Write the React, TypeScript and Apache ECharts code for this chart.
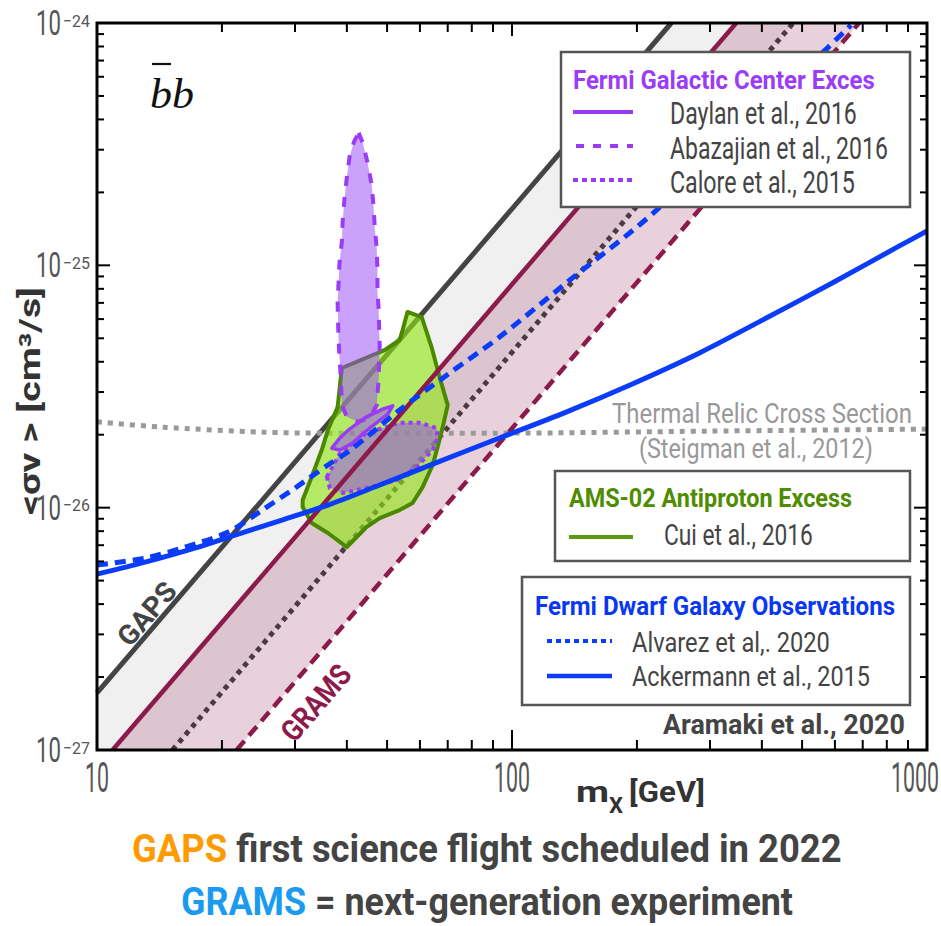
import React, { useEffect, useRef } from 'react';
import * as echarts from 'echarts';

// ---------------- axes ----------------
const X_RANGE = [10, 1000];
const Y_RANGE = [1e-27, 1e-24];
const X_MAJOR_TICKS = [10, 100, 1000];
const X_TICK_LABELS = ['10', '100', '1000'];
const X_MINOR_TICKS = [20, 30, 40, 50, 60, 70, 80, 90, 200, 300, 400, 500, 600, 700, 800, 900];
const Y_MAJOR_TICKS = [1e-27, 1e-26, 1e-25, 1e-24];
const Y_TICK_EXPONENTS = ['−27', '−26', '−25', '−24'];
const Y_MINOR_TICKS = [
  2e-27, 3e-27, 4e-27, 5e-27, 6e-27, 7e-27, 8e-27, 9e-27,
  2e-26, 3e-26, 4e-26, 5e-26, 6e-26, 7e-26, 8e-26, 9e-26,
  2e-25, 3e-25, 4e-25, 5e-25, 6e-25, 7e-25, 8e-25, 9e-25,
];

// ---------------- GAPS / GRAMS sensitivity (edges of bands) ----------------
const GAPS_UPPER = [[10, 1.72e-27], [242, 1e-24]];
const GAPS_LOWER = [[15.2, 1e-27], [476, 1e-24]];
const GRAMS_UPPER = [[10.9, 1e-27], [347, 1e-24]];
const GRAMS_LOWER = [[21.7, 1e-27], [686, 1e-24]];
const PLOT_CORNER = [10, 1e-27];

// ---------------- Fermi dwarf limits ----------------
const ALVAREZ_2020 = [
  [10, 5.8e-27], [13.05, 6.19e-27], [16.3, 6.88e-27], [20.7, 7.93e-27], [25.0, 9.77e-27],
  [30.0, 1.205e-26], [36.0, 1.5e-26], [41.1, 1.745e-26], [53.6, 2.53e-26], [70.7, 3.59e-26],
  [93.3, 5.06e-26], [135, 8.45e-26], [223, 1.69e-25], [656, 9.8e-25],
];
const ACKERMANN_2015 = [
  [10, 5.32e-27], [13.05, 5.96e-27], [17.2, 6.81e-27], [21.5, 7.71e-27], [27.9, 8.89e-27],
  [36.0, 1.025e-26], [48.0, 1.24e-26], [64.4, 1.513e-26], [93.3, 1.938e-26], [135, 2.48e-26],
  [195, 3.24e-26], [283, 4.35e-26], [410, 6.06e-26], [591, 8.45e-26], [856, 1.2e-25],
  [1000, 1.385e-25],
];

// ---------------- thermal relic ----------------
const THERMAL_RELIC = [
  [10, 2.26e-26], [14.3, 2.15e-26], [25, 2.05e-26], [36, 2.03e-26], [93, 2.03e-26],
  [300, 2.07e-26], [1000, 2.11e-26],
];

// ---------------- AMS-02 antiproton excess (Cui et al. 2016) ----------------
const CUI_2016 = [
  [56.0, 6.42e-26], [60.6, 6.12e-26], [64.0, 4.6e-26], [66.9, 3.46e-26], [70.0, 2.65e-26],
  [68.0, 2.13e-26], [66.2, 1.78e-26], [64.4, 1.5e-26], [60.9, 1.216e-26], [57.6, 1.045e-26],
  [53.6, 9.77e-27], [48.0, 9.06e-27], [44.6, 8.32e-27], [40.0, 6.88e-27], [36.0, 7.86e-27],
  [32.9, 8.64e-27], [31.3, 1.006e-26], [31.3, 1.075e-26], [32.9, 1.337e-26], [34.8, 1.729e-26],
  [36.0, 2.09e-26], [38.0, 2.6e-26], [38.9, 3.77e-26], [49.3, 4.47e-26], [53.6, 4.92e-26],
  [54.5, 5.41e-26],
];

// ---------------- Fermi GCE regions ----------------
const ABAZAJIAN_2016 = [
  [42.7, 3.52e-25], [43.7, 3.2e-25], [44.9, 2.64e-25], [45.9, 2.15e-25], [46.4, 1.74e-25],
  [46.7, 1.43e-25], [47.2, 1.18e-25], [47.4, 9.56e-26], [47.4, 7.76e-26], [47.7, 6.66e-26],
  [48.0, 4.6e-26], [47.7, 3.36e-26], [47.2, 2.65e-26], [45.4, 2.34e-26], [42.5, 2.26e-26],
  [40.0, 2.37e-26], [38.9, 2.65e-26], [38.7, 3.36e-26], [38.2, 4.92e-26], [38.0, 6.99e-26],
  [38.2, 8.45e-26], [38.4, 1.02e-25], [38.9, 1.25e-25], [39.1, 1.54e-25], [39.5, 1.9e-25],
  [40.0, 2.31e-25], [40.6, 2.8e-25], [41.6, 3.23e-25],
];
const CALORE_2015 = [
  [35.8, 1.34e-26], [38.5, 1.68e-26], [44.6, 2.03e-26], [53.6, 2.24e-26], [59.9, 2.24e-26],
  [65.8, 2.13e-26], [66.2, 1.94e-26], [64.4, 1.73e-26], [58.9, 1.47e-26], [52.7, 1.3e-26],
  [44.6, 1.205e-26], [39.1, 1.15e-26], [36.4, 1.205e-26],
];
const DAYLAN_2016 = [
  [36.8, 1.76e-26], [38.5, 1.94e-26], [40.6, 2.11e-26], [44.6, 2.37e-26], [48.8, 2.55e-26],
  [51.6, 2.63e-26], [50.2, 2.43e-26], [45.4, 2.13e-26], [41.3, 1.85e-26], [38.5, 1.73e-26],
];

// ---------------- styling ----------------
const FONT = "Roboto, 'DejaVu Sans', sans-serif";
const C_GAPS = '#444444';
const C_GRAMS = '#8c1a4b';
const C_DOT = '#4b3a42';
const C_BLUE = '#0b3cf7';
const C_THERMAL = '#9a9a9a';
const C_PURPLE = '#9a3cf5';
const C_GREEN = '#4a8800';
const C_TEXT = '#444444';

let measureCtx: any = null;
function measure(text: string, font: string): number {
  if (!measureCtx) measureCtx = document.createElement('canvas').getContext('2d');
  measureCtx.font = font;
  return measureCtx.measureText(text).width || 1;
}

function txt(text: string, font: string, fill: string, x: number, y: number, width: number, align = 'left', z = 110): any {
  const s = width / measure(text, font);
  return {
    type: 'text', x, y, scaleX: s, z, silent: true,
    style: { text, font, fill, textAlign: align, align, textVerticalAlign: 'middle', verticalAlign: 'middle' },
  };
}

function multiText(parts: { t: string; c: string }[], font: string, x0: number, y: number, width: number): any[] {
  const gap = measure(' ', font);
  const ws = parts.map((p) => measure(p.t, font));
  const total = ws.reduce((a, b) => a + b, 0) + gap * (parts.length - 1);
  const s = width / total;
  let x = x0;
  return parts.map((p, i) => {
    const el = {
      type: 'text', x, y, scaleX: s, z: 110, silent: true,
      style: { text: p.t, font, fill: p.c, textAlign: 'left', align: 'left', textVerticalAlign: 'middle', verticalAlign: 'middle' },
    };
    x += (ws[i] + gap) * s;
    return el;
  });
}

function lineSeries(name: string, data: number[][], color: string, width: number, type: any, z: number, smooth: any = false): any {
  return {
    type: 'line', name, data, z, silent: true, showSymbol: false, symbol: 'none', clip: true, smooth,
    lineStyle: { color, width, type, cap: 'butt' },
  };
}

function areaSeries(name: string, pts: number[][], style: any, z: number): any {
  return {
    type: 'custom', name, z, silent: true, clip: false,
    data: pts,
    encode: { x: 0, y: 1 },
    renderItem: (params: any, api: any) => {
      if (params.dataIndex !== 0) return null;
      return { type: 'polygon', shape: { points: pts.map((p) => api.coord(p)) }, style };
    },
  };
}

function textStyle(text: string, font: string, fill: string, align: string) {
  return { text, font, fill, textAlign: align, align, textVerticalAlign: 'middle', verticalAlign: 'middle' };
}

function buildOption(): any {
  const xTickData = [
    ...X_MAJOR_TICKS.map((v, i) => [v, Y_RANGE[0], 1, i]),
    ...X_MINOR_TICKS.map((v) => [v, Y_RANGE[0], 0, -1]),
  ];
  const yTickData = [
    ...Y_MAJOR_TICKS.map((v, i) => [X_RANGE[0], v, 1, i]),
    ...Y_MINOR_TICKS.map((v) => [X_RANGE[0], v, 0, -1]),
  ];

  const xTicks = {
    type: 'custom', name: 'xticks', z: 20, silent: true, clip: false,
    data: xTickData, encode: { x: 0, y: 1 },
    renderItem: (params: any, api: any) => {
      const v = api.value(0);
      const major = api.value(2);
      const li = api.value(3);
      const cs = params.coordSys;
      const px = api.coord([v, Y_RANGE[0]])[0];
      const bottom = cs.y + cs.height;
      const children: any[] = [
        { type: 'line', shape: { x1: px, y1: bottom, x2: px, y2: bottom - (major ? 20 : 10) }, style: { stroke: '#000', lineWidth: 2 } },
        { type: 'line', shape: { x1: px, y1: cs.y, x2: px, y2: cs.y + (major ? 13 : 9) }, style: { stroke: '#000', lineWidth: 2 } },
      ];
      if (major && li >= 0) {
        const t = X_TICK_LABELS[li];
        const font = `42px ${FONT}`;
        const w = 12 * t.length;
        const s = w / measure(t, font);
        let cx = px;
        if (cx + w / 2 > 939) cx = 939 - w / 2;
        children.push({ type: 'text', x: cx, y: bottom + 28, scaleX: s, style: textStyle(t, font, '#555', 'center') });
      }
      if (params.dataIndex === 0) {
        children.push({ type: 'rect', shape: { x: cs.x, y: cs.y, width: cs.width, height: cs.height }, style: { fill: 'none', stroke: '#000', lineWidth: 3 } });
      }
      return { type: 'group', children };
    },
  };

  const yTicks = {
    type: 'custom', name: 'yticks', z: 20, silent: true, clip: false,
    data: yTickData, encode: { x: 0, y: 1 },
    renderItem: (params: any, api: any) => {
      const v = api.value(1);
      const major = api.value(2);
      const li = api.value(3);
      const cs = params.coordSys;
      const py = api.coord([X_RANGE[0], v])[1];
      const right = cs.x + cs.width;
      const children: any[] = [
        { type: 'line', shape: { x1: cs.x, y1: py, x2: cs.x + (major ? 13 : 7), y2: py }, style: { stroke: '#000', lineWidth: 2 } },
        { type: 'line', shape: { x1: right, y1: py, x2: right - (major ? 13 : 7), y2: py }, style: { stroke: '#000', lineWidth: 2 } },
      ];
      if (major && li >= 0) {
        const fBase = `35px ${FONT}`;
        const fSup = `17px ${FONT}`;
        const sup = Y_TICK_EXPONENTS[li];
        const sB = 25 / measure('10', fBase);
        const sS = 27 / measure(sup, fSup);
        children.push({ type: 'text', x: cs.x - 36, y: py, scaleX: sB, style: textStyle('10', fBase, '#555', 'right') });
        children.push({ type: 'text', x: cs.x - 34, y: py - 2, scaleX: sS, style: textStyle(sup, fSup, '#555', 'left') });
      }
      return { type: 'group', children };
    },
  };

  const purpleFill = 'rgba(150,70,250,0.5)';

  const series: any[] = [
    areaSeries('GAPS band', [GAPS_UPPER[0], GAPS_UPPER[1], GAPS_LOWER[1], GAPS_LOWER[0], PLOT_CORNER], { fill: 'rgba(0,0,0,0.06)' }, 1),
    areaSeries('GRAMS band', [GRAMS_UPPER[0], GRAMS_UPPER[1], GRAMS_LOWER[1], GRAMS_LOWER[0]], { fill: 'rgba(140,24,72,0.2)' }, 1),
    lineSeries('GAPS', GAPS_UPPER, C_GAPS, 5, 'solid', 2),
    lineSeries('GAPS lower', GAPS_LOWER, C_DOT, 5, [5, 5], 2),
    lineSeries('GRAMS lower', GRAMS_LOWER, C_GRAMS, 4.5, [12, 7], 2),
    lineSeries('Thermal Relic', THERMAL_RELIC, C_THERMAL, 5, [5, 6], 3, 0.3),
    areaSeries('Cui et al., 2016', CUI_2016, { fill: 'rgba(145,230,20,0.62)', stroke: C_GREEN, lineWidth: 4, lineJoin: 'round' }, 4),
    areaSeries('Abazajian et al., 2016', ABAZAJIAN_2016, { fill: purpleFill, stroke: C_PURPLE, lineWidth: 4, lineDash: [10, 11] }, 5),
    areaSeries('Calore et al., 2015', CALORE_2015, { fill: purpleFill, stroke: C_PURPLE, lineWidth: 4, lineDash: [4, 4] }, 5),
    areaSeries('Daylan et al., 2016', DAYLAN_2016, { fill: purpleFill, stroke: C_PURPLE, lineWidth: 3.5, lineJoin: 'round' }, 5),
    lineSeries('GRAMS', GRAMS_UPPER, C_GRAMS, 4.5, 'solid', 6),
    lineSeries('Alvarez et al., 2020', ALVAREZ_2020, C_BLUE, 5, [11, 7], 7, 0.3),
    lineSeries('Ackermann et al., 2015', ACKERMANN_2015, C_BLUE, 5, 'solid', 7, 0.3),
    xTicks,
    yTicks,
  ];

  const L = (x1: number, y1: number, x2: number, y2: number, stroke: string, lineWidth: number, lineDash?: number[]) => ({
    type: 'line', z: 105, silent: true, shape: { x1, y1, x2, y2 }, style: { stroke, lineWidth, lineDash },
  });
  const box = (x: number, y: number, width: number, height: number) => ({
    type: 'rect', z: 100, silent: true, shape: { x, y, width, height }, style: { fill: '#fff', stroke: '#555', lineWidth: 2.5 },
  });

  const bold = (n: number) => `bold ${n}px ${FONT}`;
  const reg = (n: number) => `${n}px ${FONT}`;

  const elements: any[] = [
    // b-bar b
    txt('bb', "italic 42px 'Liberation Serif', 'DejaVu Serif', serif", '#111', 150, 94, 44),
    L(152, 64, 171, 64, '#111', 2.2),

    // Fermi GCE legend
    box(561, 52, 349, 155),
    txt('Fermi Galactic Center Exces', bold(25), '#9b3cf6', 573, 80, 302),
    L(573, 112, 633, 112, C_PURPLE, 4),
    L(576, 146, 633, 146, C_PURPLE, 4, [8, 9]),
    L(573, 180, 633, 180, C_PURPLE, 4, [5, 4]),
    txt('Daylan et al., 2016', reg(31), C_TEXT, 670, 114, 187),
    txt('Abazajian et al., 2016', reg(31), C_TEXT, 670, 149, 218),
    txt('Calore et al., 2015', reg(31), C_TEXT, 670, 183, 185),

    // thermal relic text
    txt('Thermal Relic Cross Section', reg(28), '#999', 612, 413, 300),
    txt('(Steigman et al., 2012)', reg(28), '#999', 639, 448, 234),

    // AMS legend
    box(555, 471, 355, 90),
    txt('AMS-02 Antiproton Excess', bold(25), '#4e8c00', 569, 499, 283),
    L(569, 537, 633, 537, '#5a9a10', 4),
    txt('Cui et al., 2016', reg(29), C_TEXT, 664, 535, 149),

    // Dwarf legend
    box(522, 577, 388, 128),
    txt('Fermi Dwarf Galaxy Observations', bold(25), '#0a37f0', 535, 606, 360),
    L(547, 641, 612, 641, C_BLUE, 4, [5, 4]),
    txt('Alvarez et al,. 2020', reg(28), C_TEXT, 632, 642, 198),
    L(547, 676, 612, 676, C_BLUE, 4.5),
    txt('Ackermann et al., 2015', reg(28), C_TEXT, 632, 676, 238),

    txt('Aramaki et al., 2020', bold(28), C_TEXT, 663, 725, 242),

    // rotated band labels
    { type: 'group', x: 147, y: 614, rotation: 0.862, children: [txt('GAPS', bold(28), C_GAPS, 0, 0, 74, 'center')] },
    { type: 'group', x: 316, y: 703, rotation: 0.862, children: [txt('GRAMS', bold(30), C_GRAMS, 0, 0, 90, 'center')] },

    // axis names
    { type: 'group', x: 30, y: 401, rotation: Math.PI / 2, children: [txt('<σv > [cm³/s]', bold(29), '#333', 0, 0, 228, 'center')] },
    txt('m', bold(30), '#333', 576, 792, 33),
    txt('X', bold(22), '#333', 609, 806, 14),
    txt('[GeV]', bold(30), '#333', 629, 792, 76),

    // bottom captions
    ...multiText([{ t: 'GAPS', c: '#ff9a00' }, { t: 'first science flight scheduled in 2022', c: C_TEXT }], bold(39), 132, 849, 710),
    ...multiText([{ t: 'GRAMS', c: '#1a9bf0' }, { t: '= next-generation experiment', c: C_TEXT }], bold(39), 181, 901, 612),
  ];

  return {
    animation: false,
    backgroundColor: '#fff',
    grid: { left: 97, top: 23, right: 14, bottom: 176, show: false },
    xAxis: {
      type: 'log', logBase: 10, min: X_RANGE[0], max: X_RANGE[1],
      axisLine: { show: false }, axisTick: { show: false }, axisLabel: { show: false }, splitLine: { show: false },
    },
    yAxis: {
      type: 'log', logBase: 10, min: Y_RANGE[0], max: Y_RANGE[1],
      axisLine: { show: false }, axisTick: { show: false }, axisLabel: { show: false }, splitLine: { show: false },
    },
    series,
    graphic: { elements },
  };
}

export default function App() {
  const ref = useRef<HTMLDivElement>(null);
  useEffect(() => {
    document.body.style.margin = '0';
    const chart = echarts.init(ref.current as HTMLDivElement, undefined, { renderer: 'svg' });
    chart.setOption(buildOption());
    return () => chart.dispose();
  }, []);
  return <div ref={ref} style={{ width: 941, height: 926 }} />;
}
